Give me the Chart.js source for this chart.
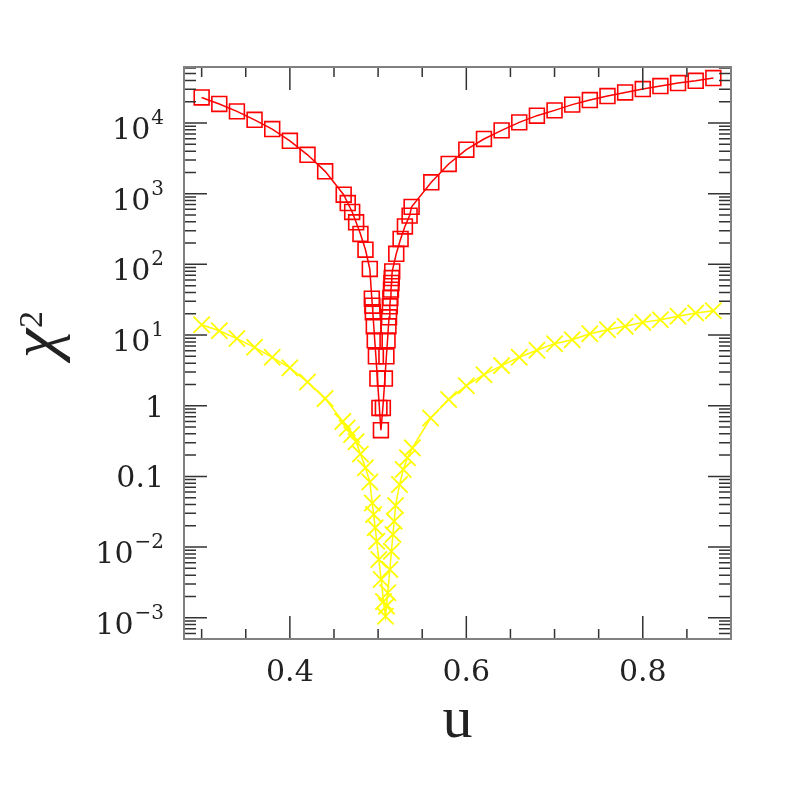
<!DOCTYPE html>
<html>
<head>
<meta charset="utf-8">
<script src="https://cdn.jsdelivr.net/npm/chart.js@4.4.0/dist/chart.umd.min.js"></script>
<style>
  body { margin: 0; background: #fff; }
  canvas { display: block; }
</style>
</head>
<body>
<canvas id="myChart" width="797" height="797"></canvas>
<script>
// red squares: u and chi^2
const redU = [0.30, 0.32, 0.34, 0.36, 0.38, 0.40, 0.42, 0.44, 0.461, 0.4656, 0.4706, 0.4751, 0.480, 0.4857, 0.4906,
    0.4929, 0.4935, 0.4940, 0.4951, 0.4962, 0.4975, 0.4992, 0.5015, 0.5032,
    0.5054, 0.5077, 0.5094, 0.5107, 0.5117, 0.5124, 0.5133, 0.5139, 0.5146, 0.5151, 0.5155, 0.516,
    0.5206, 0.5255, 0.5304, 0.5357, 0.538, 0.5603,
    0.58, 0.60, 0.62, 0.64, 0.66, 0.68, 0.70, 0.72, 0.74, 0.76, 0.78, 0.80, 0.82, 0.84, 0.86, 0.88];
const redChi = [23000, 18600, 14600, 11100, 8200, 5600, 3550, 2070, 968, 738, 551, 393, 269, 161, 86,
    32.7, 26, 21, 13.3, 8.4, 5.0, 2.42, 0.93, 0.45,
    0.93, 2.42, 5.0, 8.4, 13.3, 17.8, 25.5, 33.5, 43.9, 54.5, 64, 79.6,
    141, 229, 344, 489, 650, 1450,
    2630, 4190, 5940, 7860, 10200, 12700, 15100, 18200, 21100, 24100, 27100, 30200, 33300, 36800, 39600, 43300];

// yellow crosses: u and chi^2
const yellowU = [0.30, 0.32, 0.34, 0.36, 0.38, 0.40, 0.42, 0.44, 0.46, 0.465, 0.47, 0.475, 0.48, 0.4857, 0.4906,
    0.4934, 0.4950, 0.4967, 0.4984, 0.5008, 0.5035, 0.5061, 0.5084,
    0.5095, 0.5109, 0.5133, 0.5151, 0.5168, 0.5182,
    0.5198, 0.5243, 0.5285, 0.5333, 0.5388, 0.5595,
    0.58, 0.60, 0.62, 0.64, 0.66, 0.68, 0.70, 0.72, 0.74, 0.76, 0.78, 0.80, 0.82, 0.84, 0.86, 0.88];
const yellowChi = [14.0, 11.5, 8.9, 6.7, 4.84, 3.43, 2.17, 1.26, 0.60, 0.485, 0.39, 0.31, 0.208, 0.132, 0.0835,
    0.042, 0.0288, 0.0187, 0.0121, 0.00665, 0.00347, 0.0017, 0.00105,
    0.00146, 0.00225, 0.0048, 0.0087, 0.015, 0.0232,
    0.0386, 0.0766, 0.125, 0.183, 0.253, 0.67,
    1.22, 1.92, 2.75, 3.69, 4.84, 6.08, 7.55, 8.6, 10.4, 11.9, 13.3, 15.1, 16.5, 18.4, 20.5, 22.1];

const xMajorTicks = [0.4, 0.6, 0.8];
const xTickLabels = ['0.4', '0.6', '0.8'];
const xMinorTicks = [0.3, 0.35, 0.45, 0.5, 0.55, 0.65, 0.7, 0.75, 0.85];
const yMajorTicks = [1e-3, 1e-2, 1e-1, 1, 1e1, 1e2, 1e3, 1e4];
const yTickBase = ['10', '10', '0.1', '1', '10', '10', '10', '10'];
const yTickExp = ['\u22123', '\u22122', '', '', '1', '2', '3', '4'];

const frameAndTicks = {
    id: 'frameAndTicks',
    afterDraw(chart) {
        const ctx = chart.ctx;
        const a = chart.chartArea;
        const xs = chart.scales.x;
        const ys = chart.scales.y;
        ctx.save();

        // inward ticks on all four sides
        ctx.strokeStyle = '#333';
        ctx.lineWidth = 1.5;
        ctx.beginPath();
        const xTick = (v, len) => {
            const px = xs.getPixelForValue(v);
            ctx.moveTo(px, a.bottom); ctx.lineTo(px, a.bottom - len);
            ctx.moveTo(px, a.top); ctx.lineTo(px, a.top + len);
        };
        const yTick = (v, len) => {
            const py = ys.getPixelForValue(v);
            ctx.moveTo(a.left, py); ctx.lineTo(a.left + len, py);
            ctx.moveTo(a.right, py); ctx.lineTo(a.right - len, py);
        };
        xMajorTicks.forEach(v => xTick(v, 23));
        xMinorTicks.forEach(v => xTick(v, 10));
        yMajorTicks.forEach(v => yTick(v, 23));
        for (let k = -4; k <= 4; k++) {
            for (let m = 2; m <= 9; m++) {
                const v = m * Math.pow(10, k);
                if (v > ys.min && v < ys.max) yTick(v, 12);
            }
        }
        ctx.stroke();

        // frame
        ctx.strokeStyle = '#808080';
        ctx.lineWidth = 2;
        ctx.strokeRect(a.left, a.top, a.right - a.left, a.bottom - a.top);

        // tick labels
        ctx.fillStyle = '#222';
        ctx.textBaseline = 'alphabetic';
        ctx.font = '30px "DejaVu Serif"';
        ctx.textAlign = 'center';
        xMajorTicks.forEach((v, i) => {
            ctx.fillText(xTickLabels[i], xs.getPixelForValue(v), 681);
        });

        const labelRight = 164;
        yMajorTicks.forEach((v, i) => {
            const py = ys.getPixelForValue(v);
            ctx.textAlign = 'right';
            if (yTickExp[i]) {
                ctx.font = '20px "DejaVu Serif"';
                const w = ctx.measureText(yTickExp[i]).width;
                ctx.fillText(yTickExp[i], labelRight, py + 1);
                ctx.font = '30px "DejaVu Serif"';
                ctx.fillText(yTickBase[i], labelRight - w - 1, py + 16);
            } else {
                ctx.font = '30px "DejaVu Serif"';
                ctx.fillText(yTickBase[i], labelRight, py + 11);
            }
        });

        // axis titles
        ctx.textAlign = 'center';
        ctx.font = '60px "Liberation Serif"';
        ctx.fillText('u', (a.left + a.right) / 2, 737);

        ctx.translate(56, 358);
        ctx.rotate(-Math.PI / 2);
        ctx.textAlign = 'left';
        ctx.font = 'italic 66px "Liberation Serif"';
        ctx.fillText('\u03c7', 0, 0);
        const cw = ctx.measureText('\u03c7').width;
        ctx.font = '34px "Liberation Serif"';
        ctx.fillText('2', cw + 1, -14);
        ctx.restore();
    }
};

const ctx = document.getElementById('myChart').getContext('2d');

new Chart(ctx, {
    type: 'scatter',
    data: {
        datasets: [{
            label: 'red',
            data: redU.map((u, i) => ({ x: u, y: redChi[i] })),
            showLine: true,
            borderColor: '#ff0000',
            borderWidth: 1.5,
            pointStyle: 'rect',
            pointRadius: 10.5,
            pointBorderWidth: 1.6,
            pointBorderColor: '#ff0000',
            pointBackgroundColor: 'rgba(0,0,0,0)',
            fill: false,
            tension: 0
        }, {
            label: 'yellow',
            data: yellowU.map((u, i) => ({ x: u, y: yellowChi[i] })),
            showLine: true,
            borderColor: '#ffff00',
            borderWidth: 1.5,
            pointStyle: 'crossRot',
            pointRadius: 11.5,
            pointBorderWidth: 1.8,
            pointBorderColor: '#ffff00',
            fill: false,
            tension: 0
        }]
    },
    options: {
        responsive: false,
        animation: false,
        devicePixelRatio: 1,
        layout: { padding: { left: 184, right: 66, top: 67, bottom: 158 } },
        plugins: { legend: { display: false }, tooltip: { enabled: false } },
        scales: {
            x: { type: 'linear', min: 0.28, max: 0.90, display: false },
            y: { type: 'logarithmic', min: 5e-4, max: 6.2e4, display: false }
        }
    },
    plugins: [frameAndTicks]
});
</script>
</body>
</html>
